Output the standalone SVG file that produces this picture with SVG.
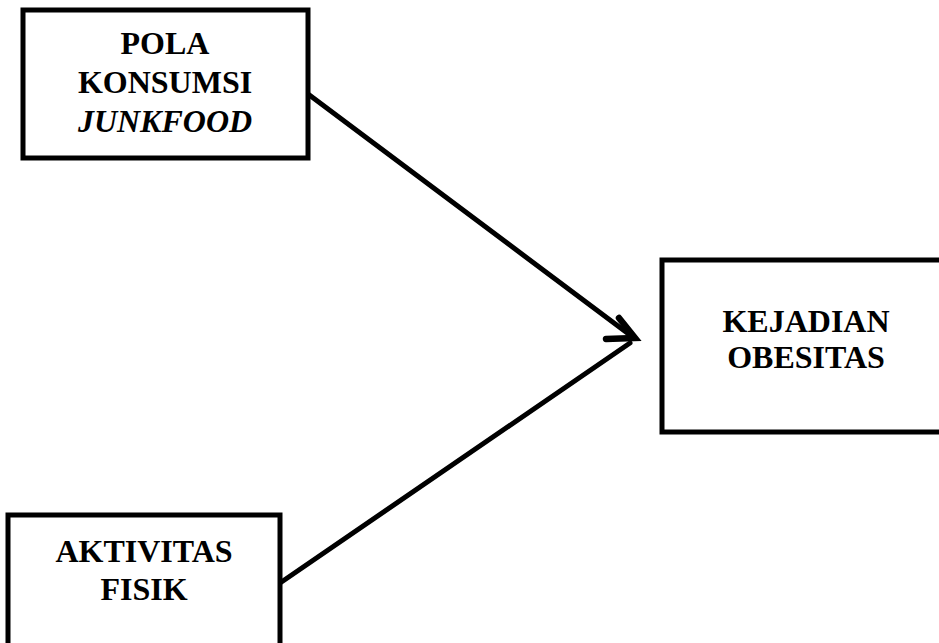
<svg xmlns="http://www.w3.org/2000/svg" width="939" height="643" viewBox="0 0 939 643">
<style>
.box{fill:#fff;stroke:#000;stroke-width:5}
.t{font-family:"Liberation Serif","Times New Roman",serif;font-weight:bold;font-size:32px;fill:#000;text-anchor:middle}
.c{fill:none;stroke:#000;stroke-width:5;stroke-linecap:round;stroke-linejoin:round}
.h{fill:none;stroke:#000;stroke-width:6.5;stroke-linecap:round;stroke-linejoin:miter}
</style>
<rect width="939" height="643" fill="#fff"/>
<g id="connectors">
<line class="c" x1="308" y1="94" x2="634" y2="338"/>
<line class="c" x1="280" y1="583" x2="630" y2="343"/>
<polyline class="h" points="619,318 635,338 606,339"/>
</g>
<g id="pola">
<rect class="box" x="23" y="10" width="285" height="148"/>
<text class="t" x="165" y="54">POLA</text>
<text class="t" x="165" y="93">KONSUMSI</text>
<text class="t" x="165" y="132" font-style="italic">JUNKFOOD</text>
</g>
<g id="kejadian">
<rect class="box" x="662" y="260" width="290" height="172"/>
<text class="t" x="806" y="332">KEJADIAN</text>
<text class="t" x="806" y="368">OBESITAS</text>
</g>
<g id="aktivitas">
<rect class="box" x="8" y="515" width="272" height="140"/>
<text class="t" x="144" y="562">AKTIVITAS</text>
<text class="t" x="144" y="600">FISIK</text>
</g>
</svg>
